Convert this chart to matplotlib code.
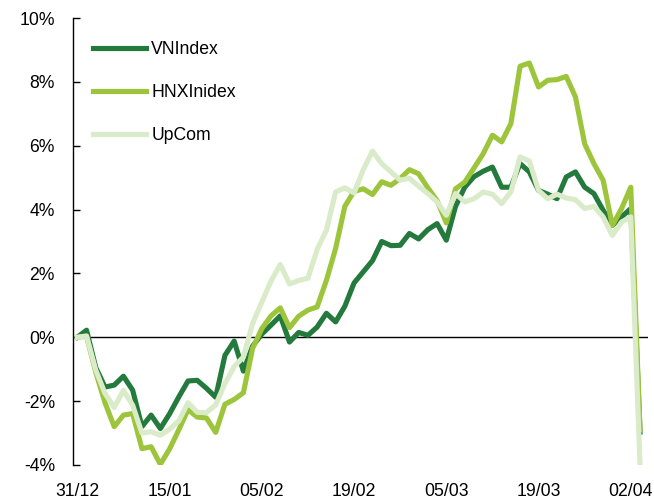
import matplotlib
matplotlib.use("Agg")
import matplotlib.pyplot as plt

plt.rcParams['font.family'] = ['Liberation Sans', 'DejaVu Sans']

# Phien giao dich tu 31/12 den 03/04, nhan moi 10 phien
tick_labels = ['31/12', '15/01', '05/02', '19/02', '05/03', '19/03', '02/04']

# Thay doi (%) so voi 31/12
vnindex = [0, 0.22, -0.95, -1.56, -1.5, -1.22, -1.66, -2.8, -2.44, -2.86,
           -2.4, -1.87, -1.37, -1.35, -1.6, -1.88, -0.57, -0.12, -1.06, -0.28,
           0.1, 0.38, 0.67, -0.15, 0.15, 0.06, 0.32, 0.75, 0.48, 0.97,
           1.7, 2.05, 2.4, 3.0, 2.87, 2.88, 3.25, 3.08, 3.37, 3.56,
           3.04, 4.1, 4.7, 5.03, 5.2, 5.33, 4.7, 4.7, 5.44, 5.18,
           4.6, 4.48, 4.34, 5.02, 5.18, 4.7, 4.5, 3.98, 3.5, 3.77,
           4.03, -2.97]
hnxindex = [0, 0.03, -1.1, -2.05, -2.8, -2.44, -2.39, -3.49, -3.43, -3.98,
            -3.5, -2.9, -2.27, -2.5, -2.53, -2.98, -2.1, -1.95, -1.74, -0.35,
            0.27, 0.67, 0.92, 0.3, 0.66, 0.85, 0.95, 1.78, 2.78, 4.1,
            4.57, 4.65, 4.47, 4.87, 4.76, 4.97, 5.25, 5.12, 4.68, 4.28,
            3.58, 4.65, 4.86, 5.3, 5.75, 6.33, 6.12, 6.69, 8.49, 8.59,
            7.84, 8.05, 8.07, 8.17, 7.53, 6.06, 5.44, 4.92, 3.5, 4.03,
            4.7, -2.9]
upcom = [0, 0.04, -1.03, -1.76, -2.2, -1.66, -2.13, -3.0, -2.96, -3.07,
         -2.88, -2.62, -2.05, -2.35, -2.36, -2.12, -1.45, -0.92, -0.62, 0.43,
         1.1, 1.76, 2.28, 1.67, 1.78, 1.85, 2.75, 3.35, 4.55, 4.68,
         4.52, 5.25, 5.83, 5.44, 5.18, 4.92, 4.98, 4.73, 4.5, 4.24,
         3.82, 4.5, 4.24, 4.34, 4.55, 4.48, 4.19, 4.55, 5.65, 5.52,
         4.6, 4.34, 4.48, 4.36, 4.31, 4.03, 4.1, 3.77, 3.19, 3.61,
         3.77, -4.0]

x = list(range(len(vnindex)))

fig = plt.figure(figsize=(6.54, 5.01), dpi=100)
ax = fig.add_axes([0.1116, 0.072, 0.879, 0.892])

ax.axhline(0, color='black', lw=1.0, zorder=1)
ax.plot(x, vnindex, color='#237a3c', lw=3.7, label='VNIndex', zorder=2)
ax.plot(x, hnxindex, color='#9cc53c', lw=3.7, label='HNXInidex', zorder=3)
ax.plot(x, upcom, color='#d9ebc8', lw=3.7, label='UpCom', zorder=4)

ax.set_xlim(-0.47, 61.85)
ax.set_ylim(-4, 10)
ax.set_yticks(range(-4, 11, 2))
ax.set_yticklabels([f'{v}%' for v in range(-4, 11, 2)])
ax.set_xticks(range(0, 61, 10))
ax.set_xticklabels(tick_labels)

for side in ['top', 'right', 'bottom']:
    ax.spines[side].set_visible(False)
ax.spines['left'].set_linewidth(1.0)
ax.tick_params(axis='y', direction='in', length=5, width=1.0, pad=13, labelsize=12.7)
ax.tick_params(axis='x', length=0, pad=13, labelsize=12.7)

ax.legend(loc='upper left', bbox_to_anchor=(0.035, 0.949), frameon=False,
          fontsize=12.7, handlelength=3.0, handletextpad=0.3,
          labelspacing=1.48, borderpad=0, borderaxespad=0)

fig.savefig('out.png', dpi=100)
